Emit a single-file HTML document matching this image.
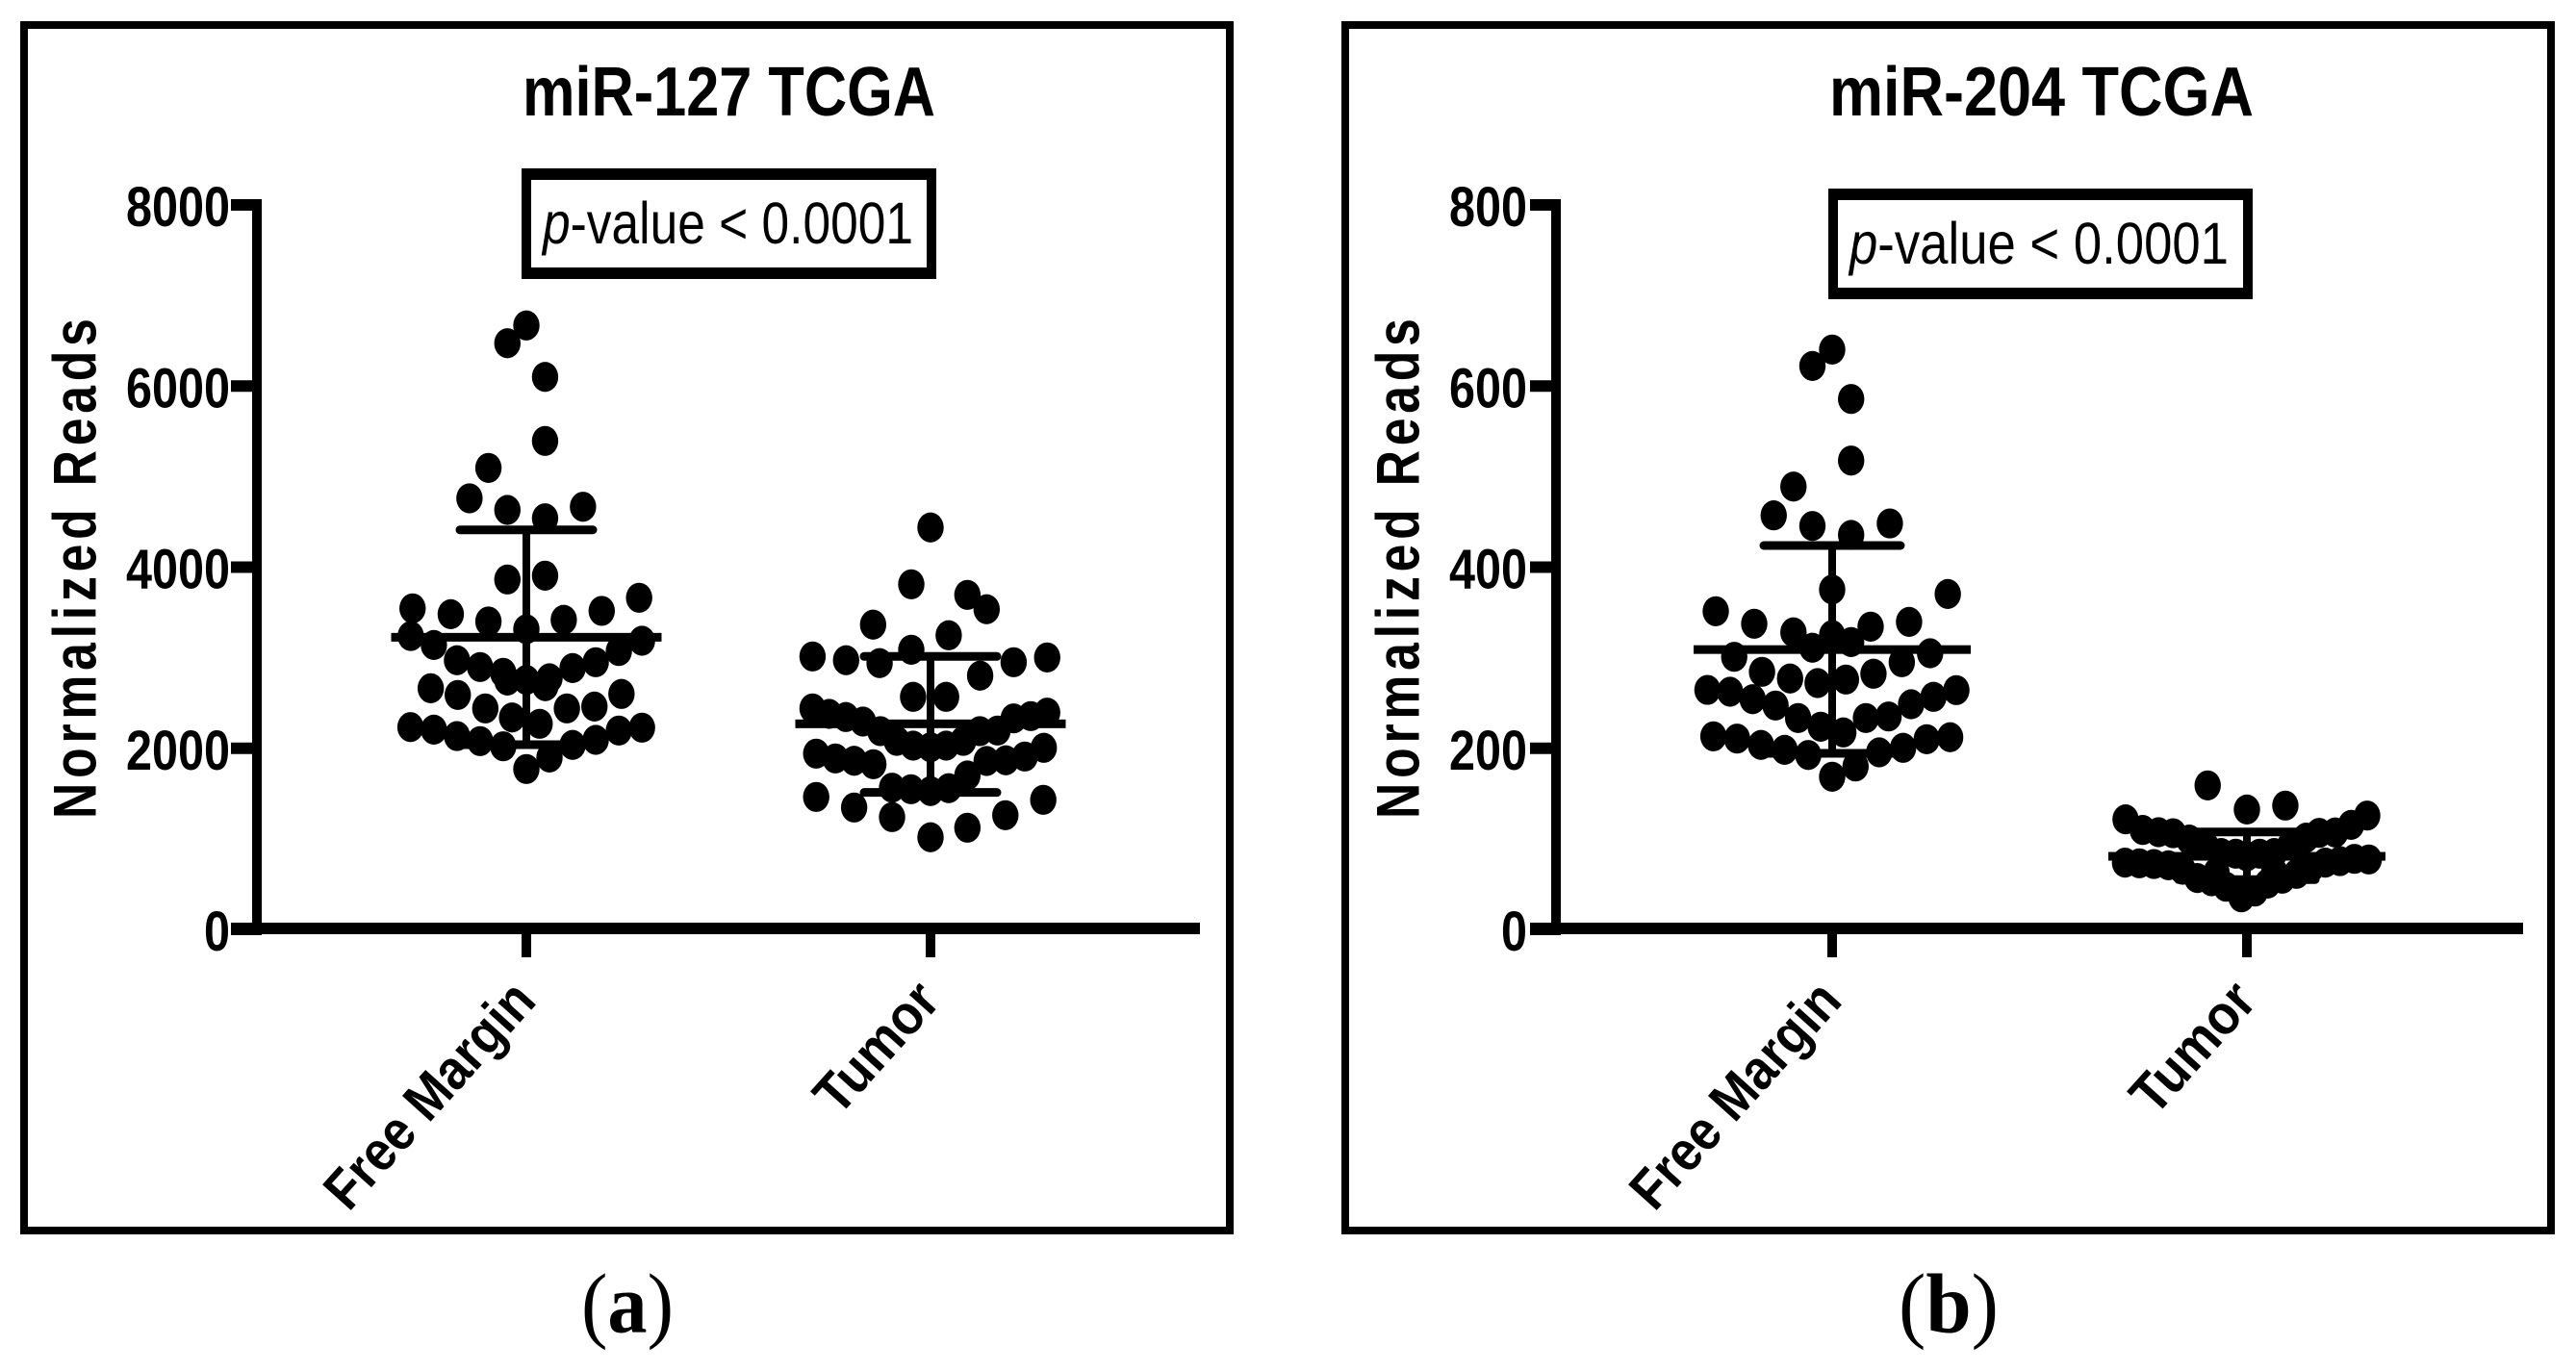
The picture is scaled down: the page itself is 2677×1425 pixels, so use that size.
<!DOCTYPE html>
<html lang="en">
<head>
<meta charset="utf-8">
<title>miR-127 and miR-204 TCGA</title>
<style>
  html, body { margin: 0; padding: 0; background: #fff; }
  svg { display: block; }
  text { font-family: "Liberation Sans", sans-serif; fill: #000; }
</style>
</head>
<body>
<svg id="chart" xmlns="http://www.w3.org/2000/svg" width="2677" height="1425" viewBox="0 0 2677 1425"></svg>
<script>
// ---------- Chart data ----------
const categories = ['Free Margin', 'Tumor'];

const titleA = 'miR-127 TCGA';
const yTicksA = [0, 2000, 4000, 6000, 8000];
const freeMarginValuesA = [6669, 6473, 6101, 5394, 5096, 4760, 4632, 4540, 4667, 3864, 3906, 3545, 3481, 3400, 3315, 3418, 3517, 3662, 3240, 3141, 2972, 2897, 2833, 2748, 2755, 2773, 2685, 2886, 2950, 3074, 3187, 2663, 2589, 2440, 2340, 2270, 2440, 2461, 2600, 2234, 2206, 2135, 2079, 2022, 1771, 1898, 2037, 2093, 2196, 2228];
const freeMarginSwarmA = [0, -0.73, 0.72, 0.72, -1.46, -2.19, -0.73, 0.72, 2.18, -0.73, 0.72, -4.38, -2.91, -1.46, 0, 1.44, 2.9, 4.34, -4.45, -3.56, -2.67, -1.78, -0.89, -0.73, 0, 0.89, 0.73, 1.78, 2.67, 3.56, 4.45, -3.68, -2.64, -1.58, -0.55, 0.51, 1.56, 2.62, 3.66, -4.46, -3.56, -2.67, -1.78, -0.89, 0, 0.89, 1.78, 2.67, 3.56, 4.45];
const tumorValuesA = [4438, 3811, 3694, 3535, 3365, 3248, 3088, 3014, 2972, 2940, 2950, 3003, 2802, 2568, 2568, 2440, 2380, 2345, 2295, 2189, 2082, 2029, 2011, 2029, 2082, 2189, 2196, 2330, 2355, 2394, 1941, 1888, 1862, 1824, 1565, 1548, 1527, 1559, 1700, 1859, 1867, 1909, 2005, 1463, 1346, 1240, 1017, 1123, 1261, 1431];
const tumorSwarmA = [0, -0.74, 1.42, 2.16, -2.21, 0.7, -0.74, -4.54, -3.25, -1.96, 3.2, 4.49, 1.91, -0.67, 0.6, -4.54, -3.9, -3.26, -2.6, -1.93, -1.3, -0.67, 0, 0.6, 1.26, 1.9, 2.58, 3.2, 3.86, 4.49, -4.4, -3.66, -2.94, -2.2, -1.48, -0.75, 0, 0.7, 1.42, 2.16, 2.9, 3.63, 4.36, -4.4, -2.94, -1.48, 0, 1.42, 2.88, 4.34];
const meansA = [3226, 2270];
const upperA = [4412, 3014];
const lowerA = [2040, 1512];

const titleB = 'miR-204 TCGA';
const yTicksB = [0, 200, 400, 600, 800];
const freeMarginValuesB = [640.3, 622.2, 585.7, 517.7, 489, 457.2, 445.5, 435.6, 448.3, 375.3, 351.3, 337.5, 328, 325, 311, 317.3, 334.3, 339.6, 370.4, 301, 284.4, 277, 272, 275.9, 282.3, 295, 304.9, 264.5, 262.4, 254.2, 247.2, 233.4, 223.8, 217.5, 233.4, 235.1, 248.6, 256.8, 264.2, 213.2, 210.7, 203.7, 198.3, 192.6, 168.6, 179.9, 195.5, 200.5, 210, 212.2];
const freeMarginSwarmB = [0, -0.76, 0.73, 0.73, -1.49, -2.25, -0.76, 0.73, 2.22, 0, -4.48, -3, -1.49, 0, -0.76, 0.73, 1.48, 2.96, 4.45, -3.77, -2.7, -1.62, -0.56, 0.53, 1.59, 2.68, 3.77, -4.8, -3.93, -3.06, -2.18, -1.31, -0.44, 0.43, 1.3, 2.17, 3.04, 3.9, 4.78, -4.57, -3.66, -2.74, -1.83, -0.92, 0, 0.9, 1.81, 2.73, 3.64, 4.54];
const tumorValuesB = [159, 132.4, 136.7, 121.5, 109.8, 107.3, 106.2, 99.2, 93.1, 84.3, 83.6, 80.7, 125.7, 115.4, 107, 106.6, 101.3, 93.1, 84.3, 83.6, 73.7, 73, 72.2, 70.8, 65.9, 56.7, 53.1, 47.1, 35.4, 77.2, 77.9, 75.4, 73.7, 68.3, 61.3, 56, 50.6, 41.8, 63, 63.7];
const tumorSwarmB = [-1.51, 0, 1.48, -4.67, -4.01, -3.4, -2.84, -2.22, -1.6, -0.99, -0.43, 0, 4.63, 4.01, 3.4, 2.78, 2.28, 1.67, 1.05, 0.49, -4.69, -4.14, -3.58, -3.02, -2.47, -1.91, -1.36, -0.8, -0.21, 4.69, 4.14, 3.58, 3.02, 2.47, 1.91, 1.36, 0.8, 0.31, -1.17, 1.05];
const meansB = [309, 80.7];
const upperB = [423.9, 107.6];
const lowerB = [194.4, 55];

// ---------- Drawing ----------
const NS = 'http://www.w3.org/2000/svg';
const svg = document.getElementById('chart');

function make(parent, tag, attrs, text) {
  const el = document.createElementNS(NS, tag);
  for (const k in attrs) el.setAttribute(k, attrs[k]);
  if (text !== undefined) el.textContent = text;
  parent.appendChild(el);
  return el;
}

function drawPanel(p) {
  const g = make(svg, 'g', {});
  
  

  const yMax = p.yTicks[p.yTicks.length - 1];
  const yScale = v => 966 - v * 753 / yMax;
  const xScale = i => p.catX + p.catGap * i;
  const dotUnit = 27;

  const frame = make(g, 'rect', { x: p.frameX + 4, y: 26, width: 1253, height: 1253, fill: '#fff', stroke: '#000', 'stroke-width': 8 });
  
  

  const title = make(g, 'text', { x: p.titleX, y: 120, 'font-size': 72, 'font-weight': 700, textLength: p.titleLen, lengthAdjust: 'spacingAndGlyphs' }, p.title);
  
  

  const boxOuter = make(g, 'rect', { x: p.box[0], y: p.box[1], width: p.box[2], height: 115, fill: '#000' });
  
  
  const boxInner = make(g, 'rect', { x: p.box[0] + 10, y: p.box[1] + 12, width: p.box[2] - 20, height: 91, fill: '#fff' });
  
  
  const pText = make(g, 'text', { x: p.pX, y: p.box[1] + 78, 'font-size': 61, textLength: p.pLen, lengthAdjust: 'spacingAndGlyphs' });
  
  
  make(pText, 'tspan', { 'font-style': 'italic' }, 'p');
  make(pText, 'tspan', {}, '-value < 0.0001');

  // axes
  const yAxis = make(g, 'rect', { x: p.axisX, y: 207, width: 10, height: 764, fill: '#000' });
  
  
  const xAxis = make(g, 'rect', { x: p.axisX - 22, y: 959, width: p.xAxisLen, height: 12, fill: '#000' });
  
  

  p.yTicks.forEach(t => {
    const tick = make(g, 'rect', { x: p.axisX - 22, y: yScale(t) - 6, width: 32, height: 12, fill: '#000' });
    
    
    const label = String(t);
    const tl = make(g, 'text', { x: p.axisX - 23 - (p.axisX > 1000 ? 2 : 0), y: yScale(t) + 22, 'font-size': 58, 'font-weight': 700, 'text-anchor': 'end', textLength: 27 * label.length, lengthAdjust: 'spacingAndGlyphs' }, label);
    
    
  });

  const yTitle = make(g, 'text', { transform: 'translate(' + p.yTitleX + ',851) rotate(-90) scale(0.82,1)', 'font-size': 63, 'font-weight': 700, textLength: 634, lengthAdjust: 'spacing' }, 'Normalized Reads');
  
  

  categories.forEach((c, i) => {
    const cx = xScale(i);
    const tick = make(g, 'rect', { x: cx - 5, y: 971, width: 10, height: 24, fill: '#000' });
    
    
    const len = i === 0 ? 294 : 161;
    const ex = cx + 12, ey = 1042;
    const lx = ex - len * 0.669, ly = ey + len * 0.743;
    const lab = make(g, 'text', { transform: 'translate(' + lx + ',' + ly + ') rotate(-48)', 'font-size': 58, 'font-weight': 700, textLength: len, lengthAdjust: 'spacingAndGlyphs' }, c);
    
    
  });

  // points
  p.series.forEach((s, i) => {
    const cx = xScale(i);
    s.values.forEach((v, j) => {
      const dot = make(g, 'ellipse', { cx: cx + s.swarm[j] * dotUnit, cy: yScale(v), rx: 13.7, ry: 15.6, fill: '#000' });
      
      
    });
    const ym = yScale(s.mean), yu = yScale(s.upper), yl = yScale(s.lower);
    const stem = make(g, 'rect', { x: cx - 4, y: yu, width: 8, height: yl - yu, fill: '#000' });
    
    
    const mean = make(g, 'rect', { x: cx - p.meanHalf, y: ym - 4.5, width: p.meanHalf * 2, height: 9, fill: '#000' });
    
    
    [yu, yl].forEach(yc => {
      const cap = make(g, 'rect', { x: cx - p.capHalf, y: yc - 4.5, width: p.capHalf * 2, height: 9, rx: 4.5, fill: '#000' });
      
      
    });
  });

  // caption
  const cap = make(g, 'text', { x: p.captionX, y: 1384.5, 'font-size': 88, 'text-anchor': 'middle', textLength: p.captionLen, lengthAdjust: 'spacingAndGlyphs', style: 'font-family:"Liberation Serif",serif' });
  
  
  make(cap, 'tspan', {}, '(');
  make(cap, 'tspan', { 'font-weight': 700 }, p.letter);
  make(cap, 'tspan', {}, ')');
}

drawPanel({
  name: 'panel-a', title: titleA, letter: 'a', frameX: 21, titleX: 543, titleLen: 429,
  box: [542, 175, 431], pX: 564, pLen: 385, axisX: 262, xAxisLen: 1007, yTitleX: 99.5,
  catX: 547, catGap: 420, yTicks: yTicksA, captionX: 652, captionLen: 96, meanHalf: 140.5, capHalf: 73.5,
  series: [
    { values: freeMarginValuesA, swarm: freeMarginSwarmA, mean: meansA[0], upper: upperA[0], lower: lowerA[0] },
    { values: tumorValuesA, swarm: tumorSwarmA, mean: meansA[1], upper: upperA[1], lower: lowerA[1] }
  ]
});

drawPanel({
  name: 'panel-b', title: titleB, letter: 'b', frameX: 1394, titleX: 1901, titleLen: 441,
  box: [1900, 196, 441], pX: 1922, pLen: 394, axisX: 1612, xAxisLen: 1032, yTitleX: 1474.5,
  catX: 1904, catGap: 431, yTicks: yTicksB, captionX: 2025, captionLen: 104, meanHalf: 144, capHalf: 75.5,
  series: [
    { values: freeMarginValuesB, swarm: freeMarginSwarmB, mean: meansB[0], upper: upperB[0], lower: lowerB[0] },
    { values: tumorValuesB, swarm: tumorSwarmB, mean: meansB[1], upper: upperB[1], lower: lowerB[1] }
  ]
});
</script>
</body>
</html>
